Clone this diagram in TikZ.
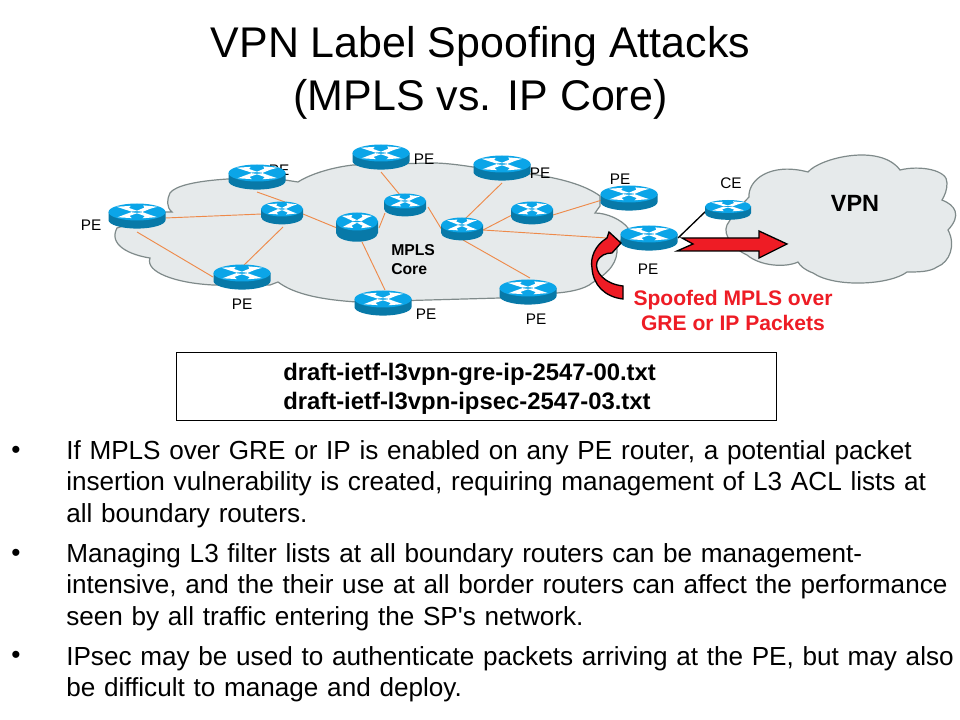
\documentclass[tikz,border=0pt]{standalone}
\usepackage{fontspec}
\setmainfont{Liberation Sans}
\newfontface\straightface{Liberation Sans}
\definecolor{cloudfill}{HTML}{E6EAEB}
\definecolor{cloudline}{HTML}{7F8A8A}
\definecolor{rtop}{HTML}{0BA5E8}
\definecolor{rside}{HTML}{0879A8}
\definecolor{link}{HTML}{EE8A4A}
\definecolor{spoof}{HTML}{EE1C25}
\newcommand{\router}[7]{% name,x,y,rx,ry,h,topoffset
  \coordinate (#1) at (#2,#3);
  \begin{scope}[shift={(#2,#3-#7)},x=#4*0.75pt,y=-#5*0.75pt]
    \fill[rside] (-1,0) -- (-1,#6) arc[start angle=180,end angle=0,x radius=1,y radius=1] -- (1,0) -- cycle;
    \fill[rtop] (0,0) ellipse[x radius=1,y radius=1];
    \fill[white] (-0.72,-0.62) -- (-0.22,-0.72) -- (-0.28,-0.48) -- (0.02,-0.12) -- (-0.2,-0.05) -- (-0.5,-0.38) -- cycle;
    \fill[white] (0.72,-0.62) -- (0.22,-0.78) -- (0.26,-0.52) -- (-0.02,-0.12) -- (0.2,-0.02) -- (0.48,-0.4) -- cycle;
    \fill[white] (-0.68,0.62) -- (-0.18,0.72) -- (-0.26,0.46) -- (0.02,0.12) -- (-0.2,0.02) -- (-0.48,0.36) -- cycle;
    \fill[white] (0.7,0.6) -- (0.2,0.74) -- (0.27,0.48) -- (-0.02,0.12) -- (0.2,0.02) -- (0.48,0.36) -- cycle;
  \end{scope}}
\tikzset{
  cloudshape/.style={fill=cloudfill,draw=cloudline,line width=0.9pt},
  corelink/.style={draw=link,line width=0.7pt},
  lbl/.style={font=\fontsize{11.5}{13}\selectfont,text=black,inner sep=0pt},
  bul/.style={font=\fontsize{19.6}{23.8}\selectfont,inner sep=0pt,anchor=north west,align=left,text width=700pt},
  dot/.style={font=\fontsize{19.6}{23.8}\selectfont,inner sep=0pt,anchor=base west},
  fatarrow/.style={fill=spoof,draw=black,line width=1pt,line join=miter}
}
\begin{document}
\begin{tikzpicture}[x=0.75pt,y=-0.75pt]
\useasboundingbox (0,0) rectangle (960,720);
\fill[white] (0,0) rectangle (960,720);
% title
\node[font=\fontsize{32.2}{40}\selectfont,align=center,inner sep=0pt] (title) at (480.5,73) {VPN Label Spoofing Attacks\\(MPLS vs. IP Core)};
\node[lbl] (l2) at (279,170) {PE};
% MPLS cloud
\path[cloudshape] (165,212) -- (172,212)
 .. controls (166,207) and (167,199) .. (170,193)
 .. controls (175,186) and (195,181) .. (228,179)
 -- (285,180) -- (298,182)
 .. controls (312,173) and (335,167) .. (353,165)
 -- (433,163)
 .. controls (445,163) and (460,165) .. (473,167)
 -- (530,174)
 .. controls (560,178) and (585,185) .. (600,196)
 -- (600,206) -- (595,213)
 .. controls (607,213) and (622,220) .. (628,228)
 -- (617,247)
 .. controls (618,262) and (610,272) .. (592,283)
 .. controls (585,289) and (570,292) .. (557,293)
 -- (500,298)
 -- (357,302)
 .. controls (325,300) and (295,295) .. (278,282)
 -- (270,285) -- (213,285)
 .. controls (175,283) and (145,272) .. (150,258)
 .. controls (130,255) and (108,245) .. (117,228)
 -- cycle;
% VPN cloud
\path[cloudshape] (749,197)
 .. controls (748,180) and (770,162) .. (808,172)
 .. controls (820,158) and (880,143) .. (900,170)
 .. controls (920,165) and (948,170) .. (947,183)
 .. controls (947,190) and (945,195) .. (942,200)
 .. controls (955,205) and (962,215) .. (948,230)
 .. controls (956,245) and (950,262) .. (937,267)
 .. controls (930,272) and (918,272) .. (907,272)
 .. controls (890,285) and (835,288) .. (813,273)
 .. controls (805,270) and (800,266) .. (798,262)
 .. controls (785,268) and (760,266) .. (747,255)
 .. controls (735,250) and (722,235) .. (727,225)
 -- (735,212) -- cycle;
% router anchors
\foreach \n/\x/\y in {r1/137/216,r2/257/177,r3/282/213,r4/357/227,r5/381/157,r6/405/205,r7/242/277,r8/383/303,r9/502/168,r10/462/229,r11/532/213,r12/629/198,r13/649/238,r14/528/292,ce/728/210}{\coordinate (\n) at (\x,\y);}
% links
\draw[corelink] ([shift={(28,2)}]r1)--([shift={(-20,1)}]r3);
\draw[corelink] ([shift={(0,16)}]r1)--([shift={(-29,0)}]r7);
\draw[corelink] ([shift={(0,15)}]r2)--([shift={(3,-11)}]r3);
\draw[corelink] ([shift={(1,14)}]r3)--([shift={(0,-10)}]r7);
\draw[corelink] ([shift={(21,1)}]r3)--([shift={(-20,1)}]r4);
\draw[corelink] ([shift={(22,1)}]r4)--([shift={(-20,8)}]r6);
\draw[corelink] ([shift={(0,15)}]r5)--([shift={(-5,-10)}]r6);
\draw[corelink] ([shift={(5,15)}]r4)--([shift={(2,-13)}]r8);
\draw[corelink] ([shift={(23,2)}]r6)--([shift={(-20,1)}]r10);
\draw[corelink] ([shift={(0,15)}]r9)--([shift={(3,-10)}]r10);
\draw[corelink] ([shift={(21,1)}]r10)--([shift={(-20,2)}]r11);
\draw[corelink] ([shift={(21,2)}]r11)--([shift={(-27,2)}]r12);
\draw[corelink] ([shift={(21,1)}]r10)--([shift={(-42,0)}]r13);
\draw[corelink] ([shift={(1,11)}]r10)--([shift={(2,-14)}]r14);
\draw[black,line width=1pt] ([shift={(29,0)}]r13)--([shift={(-22,1)}]ce);
% routers
\router{r1}{137}{216}{28.5}{8.5}{0.95}{4}
\router{r2}{257}{177}{28.5}{8.5}{0.95}{4}
\router{r3}{282}{213}{21}{7.5}{1.05}{4}
\router{r4}{357}{227}{21}{9}{1.25}{5.5}
\router{r5}{381}{157}{28.5}{8.5}{0.95}{4}
\router{r6}{405}{205}{21}{7.5}{1.05}{4}
\router{r7}{242}{277}{28.5}{8.5}{0.95}{4}
\router{r8}{383}{303}{28.5}{8.5}{0.95}{4}
\router{r9}{502}{168}{28.5}{8.5}{0.95}{4}
\router{r10}{462}{229}{21}{7.5}{1.05}{4}
\router{r11}{532}{213}{21}{7.5}{1.05}{4}
\router{r12}{629}{198}{28.5}{8.5}{0.95}{4}
\router{r13}{649}{238}{28.5}{8.5}{0.95}{4}
\router{r14}{528}{292}{28.5}{8.5}{0.95}{4}
\router{ce}{728}{210}{23}{6.5}{1.05}{3.5}
% red arrows
\path[fatarrow] (677,251) -- (693,244) -- (682,238) -- (759,238) -- (759,231) -- (787,244) -- (759,258) -- (759,251) -- cycle;
\path[fatarrow] (621,243) -- (609,232) -- (607,238)
 .. controls (595,245) and (590,258) .. (592,268)
 .. controls (593,285) and (605,297) .. (623,299)
 -- (623,286)
 .. controls (605,284) and (594,272) .. (597,262)
 .. controls (600,255) and (606,253) .. (612,253)
 -- cycle;
% labels
\node[lbl] (l1) at (91,225) {PE};
\node[lbl] (l5) at (424,159) {PE};
\node[lbl] (l9) at (540,173) {PE};
\node[lbl] (l12) at (620,179) {PE};
\node[lbl] (l13) at (648,269) {PE};
\node[lbl] (l14) at (536,319) {PE};
\node[lbl] (l8) at (426,314) {PE};
\node[lbl] (l7) at (242,304) {PE};
\node[lbl] (lce) at (731,183) {CE};
\node[font=\fontsize{11.8}{14.2}\selectfont\bfseries,align=left,inner sep=0pt,anchor=west] (core) at (391,259.5) {MPLS\\Core};
\node[font=\fontsize{17.6}{20}\selectfont\bfseries] (vpn) at (855,203) {VPN};
\node[font=\fontsize{15.8}{18.75}\selectfont\bfseries,text=spoof,align=center,inner sep=0pt] (spoofed) at (733,310) {Spoofed MPLS over\\GRE or IP Packets};
% draft box
\node[draw=black,line width=0.7pt,minimum width=450.5pt,minimum height=51.5pt,inner sep=0pt] (box) at (476.5,386.5) {};
\node[font=\fontsize{17.9}{21.75}\selectfont\bfseries,align=left,inner sep=0pt,anchor=west] (draft) at (283,388.5) {draft-ietf-l3vpn-gre-ip-2547-00.txt\\draft-ietf-l3vpn-ipsec-2547-03.txt};
% bullets
\node[bul] (b1) at (66,440) {If MPLS over GRE or IP is enabled on any PE router, a potential packet\\insertion vulnerability is created, requiring management of L3 ACL lists at\\all boundary routers.};
\node[bul] (b2) at (66,543) {Managing L3 filter lists at all boundary routers can be management-\\intensive, and the their use at all border routers can affect the performance\\seen by all traffic entering the SP{\straightface '}s network.};
\node[bul] (b3) at (66,646) {IPsec may be used to authenticate packets arriving at the PE, but may also\\be difficult to manage and deploy.};
\node[dot] (d1) at (11,458) {•};
\node[dot] (d2) at (11,561) {•};
\node[dot] (d3) at (11,663) {•};
\end{tikzpicture}
\end{document}
